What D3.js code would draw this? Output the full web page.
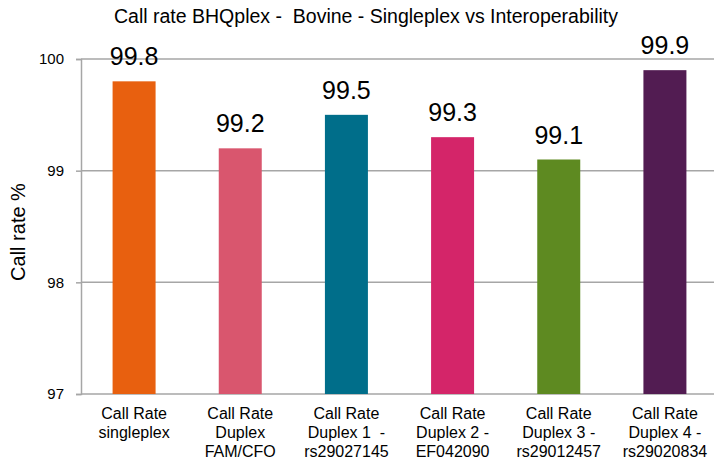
<!DOCTYPE html>
<html>
<head>
<meta charset="utf-8">
<script src="https://cdn.jsdelivr.net/npm/d3@7"></script>
<style>
  html, body { margin: 0; padding: 0; background: #fff; }
  svg { display: block; font-family: "Liberation Sans", Arial, sans-serif; }
  svg text { white-space: pre; }
</style>
</head>
<body>
<svg id="chart" width="714" height="459"></svg>
<script>
// Call rate per run configuration
const categories = [
  ["Call Rate", "singleplex"],
  ["Call Rate", "Duplex", "FAM/CFO"],
  ["Call Rate", "Duplex 1  -", "rs29027145"],
  ["Call Rate", "Duplex 2 -", "EF042090"],
  ["Call Rate", "Duplex 3 -", "rs29012457"],
  ["Call Rate", "Duplex 4 -", "rs29020834"]
];
const values = [99.8, 99.2, 99.5, 99.3, 99.1, 99.9];
const colors = ["#E8600F", "#D9566E", "#006E8A", "#D42569", "#5E8A21", "#521C52"];
const yTicks = [97, 98, 99, 100];
const titleText = "Call rate BHQplex -  Bovine - Singleplex vs Interoperability";
const yTitle = "Call rate %";

const svg = d3.select("#chart");
const plotLeft = 81, plotRight = 718, plotTop = 59, plotBottom = 394;

const x = d3.scaleBand().domain(d3.range(values.length)).range([plotLeft, plotRight]).paddingInner(0.595).paddingOuter(0.2975);
const y = d3.scaleLinear().domain([97, 100]).range([plotBottom, plotTop]);

// gridlines
svg.append("g").selectAll("line").data(yTicks.filter(t => t > 97)).join("line")
  .attr("x1", plotLeft).attr("x2", 714)
  .attr("y1", d => y(d)).attr("y2", d => y(d))
  .attr("stroke", "#A6A6A6").attr("stroke-width", 1.5);

// y axis
const yAxis = svg.append("g").attr("transform", `translate(${plotLeft},0)`)
  .call(d3.axisLeft(y).tickValues(yTicks).tickSize(5).tickPadding(12).tickFormat(d3.format("d")));
yAxis.select(".domain").attr("stroke", "#A6A6A6").attr("stroke-width", 1.5);
yAxis.selectAll(".tick line").attr("stroke", "#A6A6A6").attr("stroke-width", 1.5);
yAxis.selectAll(".tick text").attr("font-size", 15).attr("fill", "#000")
  .attr("font-family", "Liberation Sans, Arial, sans-serif");

// baseline
svg.append("line").attr("x1", plotLeft).attr("x2", 714).attr("y1", plotBottom).attr("y2", plotBottom)
  .attr("stroke", "#A6A6A6").attr("stroke-width", 1.5);

// bars
svg.append("g").selectAll("rect").data(values).join("rect")
  .attr("x", (d, i) => x(i)).attr("width", x.bandwidth())
  .attr("y", d => y(d)).attr("height", d => y(97) - y(d))
  .attr("fill", (d, i) => colors[i]);

// value labels
svg.append("g").selectAll("text").data(values).join("text")
  .attr("x", (d, i) => x(i) + x.bandwidth() / 2)
  .attr("y", d => y(d) - 16)
  .attr("text-anchor", "middle").attr("font-size", 25).attr("fill", "#000")
  .text(d => d3.format(".1f")(d));

// category labels
const cat = svg.append("g").selectAll("text").data(categories).join("text")
  .attr("text-anchor", "middle").attr("font-size", 16).attr("fill", "#000");
cat.each(function(lines, i) {
  d3.select(this).selectAll("tspan").data(lines).join("tspan")
    .attr("x", x(i) + x.bandwidth() / 2)
    .attr("y", (l, j) => 419 + j * 19)
    .text(l => l);
});

// title
svg.append("text").attr("x", 366).attr("y", 23).attr("text-anchor", "middle")
  .attr("font-size", 19.5).attr("fill", "#000").text(titleText);

// y axis title
svg.append("text").attr("transform", "translate(25,232) rotate(-90)")
  .attr("text-anchor", "middle").attr("font-size", 20).attr("fill", "#000").text(yTitle);
</script>
</body>
</html>
